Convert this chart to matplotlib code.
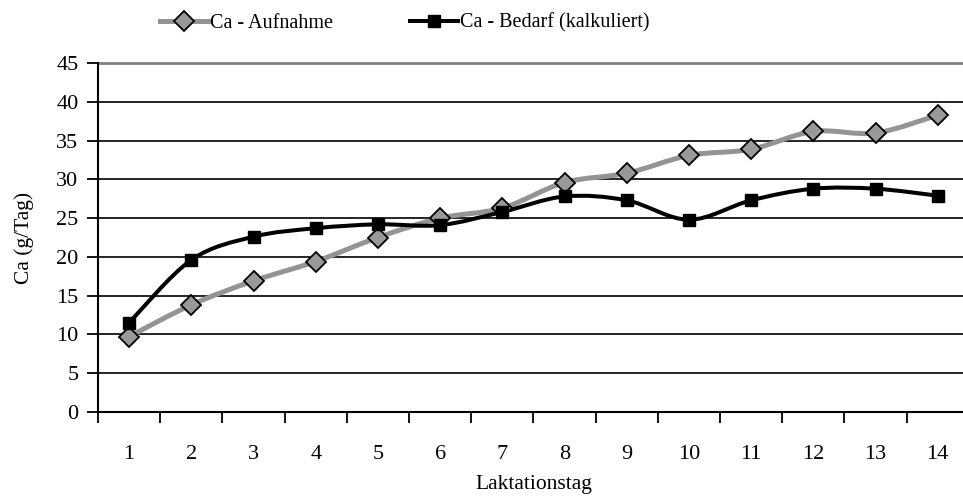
import matplotlib
matplotlib.use("Agg")
import matplotlib.pyplot as plt
from matplotlib.path import Path
from matplotlib.patches import PathPatch
from matplotlib.lines import Line2D

plt.rcParams['font.family'] = ['Liberation Serif', 'DejaVu Serif']

tage = [1, 2, 3, 4, 5, 6, 7, 8, 9, 10, 11, 12, 13, 14]
aufnahme = [9.7, 13.8, 16.9, 19.4, 22.5, 25.0, 26.3, 29.6, 30.8, 33.1, 33.9, 36.2, 36.0, 38.3]
bedarf = [11.5, 19.6, 22.6, 23.7, 24.2, 24.1, 25.8, 27.8, 27.3, 24.8, 27.3, 28.8, 28.8, 27.9]
y_ticks = [0, 5, 10, 15, 20, 25, 30, 35, 40, 45]

GRAU = '#949494'
FS = 15.5


def smooth_path(xs, ys):
    # Bezier-Kurve wie die "geglaettete Linie" in Excel (Catmull-Rom)
    pts = list(zip(xs, ys))
    verts = [pts[0]]
    codes = [Path.MOVETO]
    n = len(pts)
    for i in range(n - 1):
        p0 = pts[i - 1] if i > 0 else pts[i]
        p1 = pts[i]
        p2 = pts[i + 1]
        p3 = pts[i + 2] if i + 2 < n else pts[i + 1]
        c1 = (p1[0] + (p2[0] - p0[0]) / 6, p1[1] + (p2[1] - p0[1]) / 6)
        c2 = (p2[0] - (p3[0] - p1[0]) / 6, p2[1] - (p3[1] - p1[1]) / 6)
        verts += [c1, c2, p2]
        codes += [Path.CURVE4] * 3
    return Path(verts, codes)


fig = plt.figure(figsize=(9.63, 4.98), dpi=100)
ax = fig.add_axes([98 / 963, (498 - 411.7) / 498, 14 * 62.2 / 963, (411.7 - 63.3) / 498])

for y in y_ticks[1:-1]:
    ax.axhline(y, color='black', lw=1.2, zorder=1)
ax.axhline(45, color='#808080', lw=2, zorder=1, clip_on=False)

ax.add_patch(PathPatch(smooth_path(tage, aufnahme), fc='none', ec=GRAU, lw=3.6,
                       capstyle='round', joinstyle='round', zorder=3))
ax.add_patch(PathPatch(smooth_path(tage, bedarf), fc='none', ec='black', lw=2.9,
                       capstyle='round', joinstyle='round', zorder=4))
ax.plot(tage, aufnahme, ls='none', marker='D', ms=10, mfc='#999999', mec='black', mew=1.3, zorder=5)
ax.plot(tage, bedarf, ls='none', marker='s', ms=8, mfc='black', mec='black', zorder=6)

ax.set_xlim(0.5, 14.5)
ax.set_ylim(0, 45)
ax.set_yticks(y_ticks)
ax.set_xticks(tage)
ax.set_xticks([t + 0.5 for t in [0] + tage], minor=True)
ax.tick_params(axis='x', which='major', length=0, pad=24, labelsize=16)
ax.tick_params(axis='x', which='minor', length=8, width=1.3, direction='out')
ax.tick_params(axis='y', length=8, width=1.3, direction='out', pad=6, labelsize=16)

for s in ['top', 'right']:
    ax.spines[s].set_visible(False)
for s in ['left', 'bottom']:
    ax.spines[s].set_linewidth(1.5)
    ax.spines[s].set_color('black')

ax.set_xlabel('Laktationstag', fontsize=FS, labelpad=8)
ax.set_ylabel('Ca (g/Tag)', fontsize=FS, labelpad=16)

handles = [
    Line2D([], [], color=GRAU, lw=3.6, marker='D', ms=10, mfc='#999999', mec='black', mew=1.3),
    Line2D([], [], color='black', lw=2.9, marker='s', ms=8, mfc='black', mec='black'),
]
fig.legend(handles, ['Ca - Aufnahme', 'Ca - Bedarf (kalkuliert)'], loc='center',
           bbox_to_anchor=(405 / 963, 1 - 23 / 498), ncol=2, frameon=False, fontsize=14.5,
           handlelength=2.4, handletextpad=0.1, columnspacing=3.8, numpoints=1)

fig.savefig('out.png', dpi=100)
